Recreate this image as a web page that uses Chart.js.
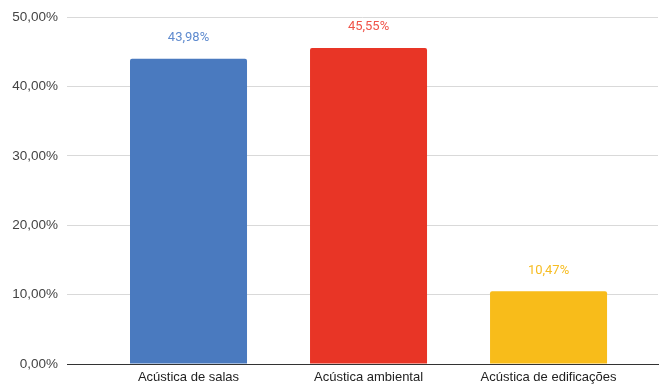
<!DOCTYPE html>
<html>
<head>
<meta charset="utf-8">
<script src="https://cdn.jsdelivr.net/npm/chart.js@4/dist/chart.umd.min.js"></script>
<style>
  html, body { margin: 0; padding: 0; background: #fff; }
  #wrap { width: 660px; height: 387px; }
</style>
</head>
<body>
<div id="wrap"><canvas id="c" width="660" height="387"></canvas></div>
<script>
// Categories and shares (percent)
const categories = ["Acústica de salas", "Acústica ambiental", "Acústica de edificações"];
const shares = [43.98, 45.55, 10.47];
const barColors = ["#4a7abf", "#e83526", "#f8bc1a"];
const labelColors = ["#5f8bcf", "#f0544a", "#f7bd22"];
const yTicks = [0, 10, 20, 30, 40, 50];

const fmt = v => v.toFixed(2).replace(".", ",") + "%";

// Value labels above each bar, positioned from the bar elements
const valueLabels = {
  id: "valueLabels",
  afterDatasetsDraw(chart) {
    const ctx = chart.ctx;
    const meta = chart.getDatasetMeta(0);
    ctx.save();
    ctx.font = "13px Roboto, Arial, sans-serif";
    ctx.textAlign = "center";
    ctx.textBaseline = "middle";
    meta.data.forEach((bar, i) => {
      ctx.fillStyle = labelColors[i];
      ctx.fillText(fmt(shares[i]), bar.x, bar.y - 21);
    });
    ctx.restore();
  }
};

new Chart(document.getElementById("c"), {
  type: "bar",
  data: {
    datasets: [{
      data: shares.map((v, i) => ({ x: i, y: v })),
      backgroundColor: barColors,
      borderWidth: 0,
      borderRadius: { topLeft: 2, topRight: 2 },
      borderSkipped: "bottom",
      barPercentage: 0.65,
      categoryPercentage: 1
    }]
  },
  options: {
    responsive: false,
    animation: false,
    layout: { padding: { top: 16, right: 2, bottom: 0, left: 0 } },
    plugins: { legend: { display: false }, tooltip: { enabled: false } },
    scales: {
      x: {
        type: "linear",
        offset: false,
        min: -0.675,
        max: 2.608,
        afterBuildTicks(scale) { scale.ticks = categories.map((_, i) => ({ value: i })); },
        afterFit(scale) { scale.height = 23; },
        ticks: {
          autoSkip: false,
          maxRotation: 0,
          padding: -2,
          color: "#222",
          font: { family: "Arial, 'Liberation Sans', sans-serif", size: 13 },
          callback: v => categories[v] ?? ""
        },
        grid: { display: false, offset: false },
        border: { display: true, color: "#333", width: 1 }
      },
      y: {
        min: 0,
        max: 50,
        afterBuildTicks(scale) { scale.ticks = yTicks.map(v => ({ value: v })); },
        afterFit(scale) { scale.width = 67; },
        ticks: {
          padding: 9,
          color: "#444",
          font: { family: "Arial, 'Liberation Sans', sans-serif", size: 13.5 },
          callback: v => fmt(v)
        },
        grid: {
          drawTicks: false,
          color: ctx => ctx.tick && ctx.tick.value === 0 ? "#333" : "#d9d9d9",
          lineWidth: 1
        },
        border: { display: false }
      }
    }
  },
  plugins: [valueLabels]
});
</script>
</body>
</html>
